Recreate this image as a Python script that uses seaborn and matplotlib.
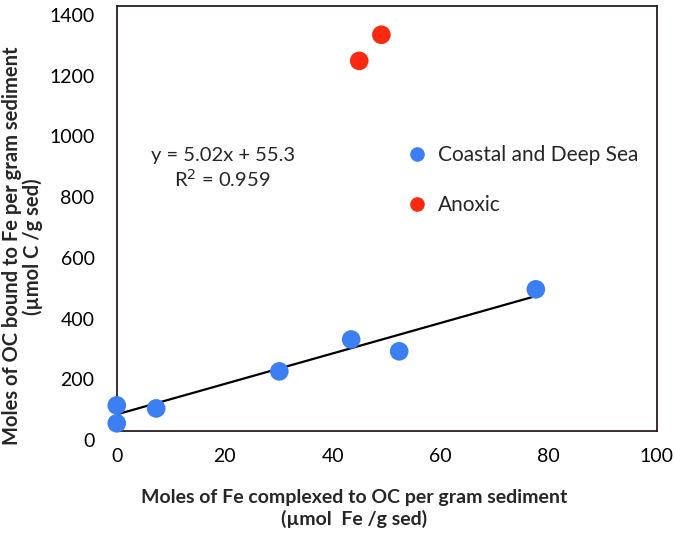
import matplotlib
matplotlib.use("Agg")
import matplotlib.pyplot as plt
import matplotlib.transforms as mtransforms
import seaborn as sns
import numpy as np
import pandas as pd
from matplotlib.lines import Line2D

# Data
coastal_x = [0.0, 0.0, 7.3, 30.1, 43.4, 52.3, 77.6]
coastal_y = [85, 26, 75, 197, 302, 263, 467]
anoxic_x = [44.9, 49.0]
anoxic_y = [1219, 1305]
groups = ["Coastal and Deep Sea", "Anoxic"]
slope, intercept = 5.02, 55.3
eq_text = "y = 5.02x + 55.3"
r2_text = "R$^2$ = 0.959"
x_ticks = [0, 20, 40, 60, 80, 100]
y_ticks = [0, 200, 400, 600, 800, 1000, 1200, 1400]

df = pd.DataFrame({
    "x": coastal_x + anoxic_x,
    "y": coastal_y + anoxic_y,
    "group": [groups[0]] * len(coastal_x) + [groups[1]] * len(anoxic_x),
})

sns.set_style("white")
plt.rcParams["font.family"] = ["Lato", "DejaVu Sans"]

fig = plt.figure(figsize=(6.75, 5.35), dpi=100)
ax = fig.add_axes([0.173, 0.194, 0.80, 0.795])

palette = {groups[0]: "#3b7ff2", groups[1]: "#fa2a12"}

# trend line
lx = np.array([min(coastal_x), max(coastal_x)])
sns.lineplot(x=lx, y=slope * lx + intercept, color="black", lw=1.6, ax=ax, zorder=2)

sns.scatterplot(data=df, x="x", y="y", hue="group", palette=palette, s=180,
                edgecolor="none", ax=ax, zorder=3, legend=False)

ax.set_xlim(0, 100)
ax.set_ylim(0, 1400)
ax.set_xticks(x_ticks)
ax.set_yticks(y_ticks)
ax.tick_params(direction="in", length=5, width=1, colors="#2b1d1d",
               labelsize=14, labelcolor="black")
ax.tick_params(axis="y", pad=16)
ax.tick_params(axis="x", pad=12)
for sp in ax.spines.values():
    sp.set_color("#2b1d1d")
    sp.set_linewidth(1.3)
for c in ax.collections:
    c.set_clip_on(False)

# Excel-style: y tick labels sit a little below their ticks
offset = mtransforms.ScaledTranslation(0, -0.09, fig.dpi_scale_trans)
for lab in ax.get_yticklabels():
    lab.set_transform(lab.get_transform() + offset)

ax.set_xlabel("Moles of Fe complexed to OC per gram sediment\n(µmol  Fe /g sed)",
              fontsize=14, fontweight="bold", linespacing=1.25)
ax.xaxis.set_label_coords(0.44, -0.137)
ax.set_ylabel("Moles of OC bound to Fe per gram sediment\n(µmol C /g sed)",
              fontsize=14.5, fontweight="bold", linespacing=1.05)
ax.yaxis.set_label_coords(-0.136, 0.435)

ax.text(19.6, 907, eq_text, ha="center", va="center", fontsize=14.5)
ax.text(19.6, 830, r2_text, ha="center", va="center", fontsize=14.5)

# legend
handles = [Line2D([], [], marker="o", ls="none", color=palette[g], markersize=9.5) for g in groups]
ax.legend(handles, groups, loc="upper left", bbox_to_anchor=(0.537, 0.673), frameon=False,
          fontsize=15, handlelength=1, handletextpad=0.5, labelspacing=1.45,
          borderaxespad=0, borderpad=0)

fig.savefig("out.png", dpi=100)
